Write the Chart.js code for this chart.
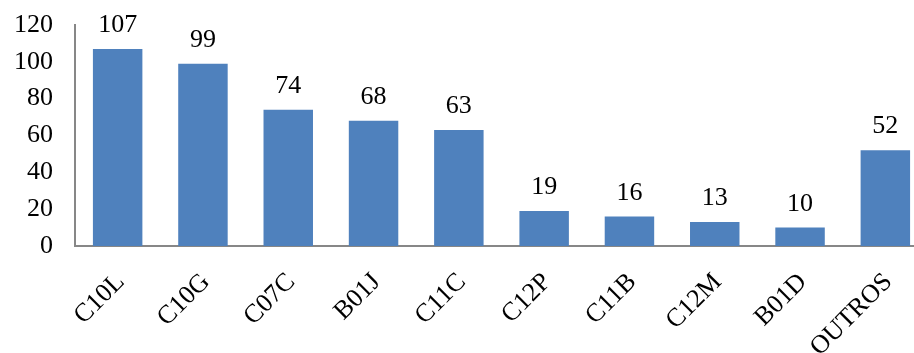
<!DOCTYPE html>
<html lang="pt">
<head>
    <meta charset="UTF-8">
    <title>Classificações</title>
    <style>
        html, body { margin: 0; padding: 0; background: #fff; overflow: hidden; }
        .chart-container { width: 928px; height: 353px; }
    </style>
</head>
<body>

<div class="chart-container">
    <canvas id="grafico"></canvas>
</div>

<script src="https://cdn.jsdelivr.net/npm/chart.js"></script>
<script>
    const categorias = ['C10L', 'C10G', 'C07C', 'B01J', 'C11C', 'C12P', 'C11B', 'C12M', 'B01D', 'OUTROS'];
    const valores = [107, 99, 74, 68, 63, 19, 16, 13, 10, 52];
    const ticksY = [0, 20, 40, 60, 80, 100, 120];

    const fonte = { family: '"Liberation Serif", "Times New Roman", serif', size: 26 };

    // Escreve o valor acima de cada barra
    const rotulosValores = {
        id: 'rotulosValores',
        afterDatasetsDraw(chart) {
            const ctx = chart.ctx;
            ctx.save();
            ctx.font = `${fonte.size}px ${fonte.family}`;
            ctx.fillStyle = '#000';
            ctx.textAlign = 'center';
            ctx.textBaseline = 'alphabetic';
            chart.getDatasetMeta(0).data.forEach((barra, i) => {
                ctx.fillText(valores[i], barra.x, barra.y - 17);
            });
            ctx.restore();
        }
    };

    new Chart(document.getElementById('grafico'), {
        type: 'bar',
        data: {
            labels: categorias,
            datasets: [{
                data: valores,
                backgroundColor: '#4F81BD',
                borderWidth: 0,
                categoryPercentage: 1,
                barPercentage: 0.58
            }]
        },
        options: {
            responsive: true,
            maintainAspectRatio: false,
            animation: false,
            layout: { padding: { top: 25, left: 0, right: 0, bottom: 0 } },
            plugins: { legend: { display: false }, tooltip: { enabled: false } },
            scales: {
                x: {
                    grid: { display: false, drawTicks: false },
                    border: { display: true, color: '#878787', width: 2 },
                    ticks: {
                        color: '#000',
                        font: fonte,
                        minRotation: 45,
                        maxRotation: 45,
                        padding: 21,
                        labelOffset: 3
                    },
                    afterFit(escala) {
                        escala.height = 107;
                        escala.paddingLeft = 0;
                        escala.paddingRight = 0;
                    }
                },
                y: {
                    min: 0,
                    max: 120,
                    grid: { display: false, drawTicks: false },
                    border: { display: true, color: '#878787', width: 2 },
                    afterBuildTicks(escala) { escala.ticks = ticksY.map(v => ({ value: v })); },
                    ticks: {
                        color: '#000',
                        font: fonte,
                        padding: 22
                    },
                    afterFit(escala) {
                        escala.width = 75;
                        escala.paddingTop = 0;
                        escala.paddingBottom = 0;
                    }
                }
            }
        },
        plugins: [rotulosValores]
    });
</script>

</body>
</html>
